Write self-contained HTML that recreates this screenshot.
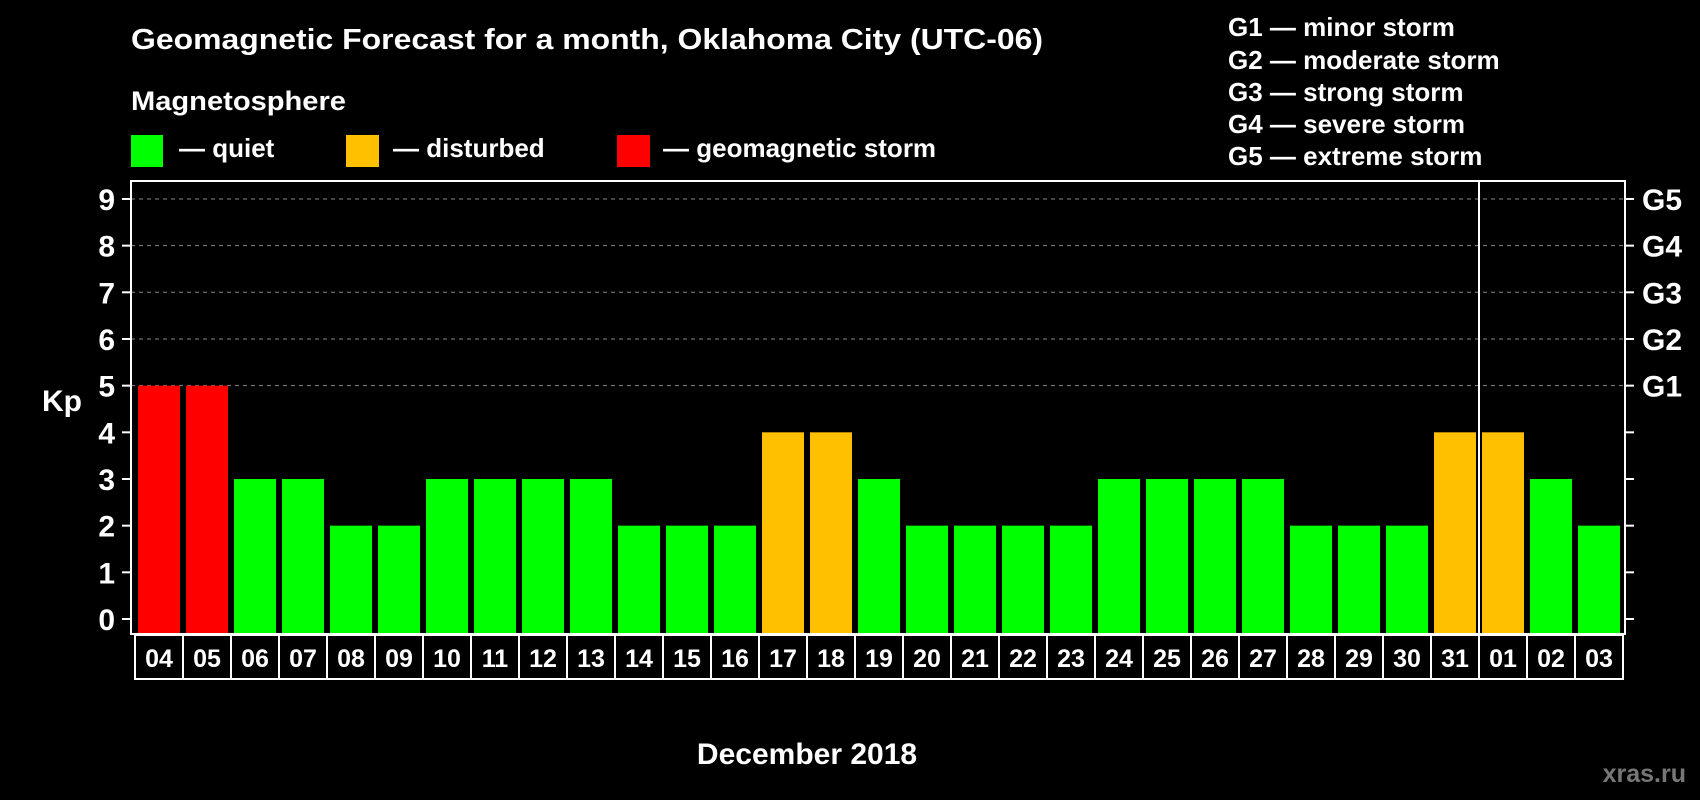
<!DOCTYPE html>
<html><head><meta charset="utf-8"><style>
html,body{margin:0;padding:0;background:#000;}
svg{display:block;font-family:"Liberation Sans",sans-serif;font-weight:bold;}
</style></head><body>
<svg id="chart" width="1700" height="800" viewBox="0 0 1700 800">
<rect width="1700" height="800" fill="#000"/>
<text x="131" y="49" fill="#fff" font-size="29" textLength="912" lengthAdjust="spacingAndGlyphs">Geomagnetic Forecast for a month, Oklahoma City (UTC-06)</text>
<text x="131" y="110" fill="#fff" font-size="27" textLength="215" lengthAdjust="spacingAndGlyphs">Magnetosphere</text>
<g><rect x="131" y="135" width="32" height="32" fill="#00ff00"/><text x="179" y="157" fill="#fff" font-size="26">— quiet</text></g>
<g><rect x="346" y="135" width="33" height="32" fill="#ffc000"/><text x="393" y="157" fill="#fff" font-size="26">— disturbed</text></g>
<g><rect x="617" y="135" width="33" height="32" fill="#ff0000"/><text x="663" y="157" fill="#fff" font-size="26">— geomagnetic storm</text></g>
<g fill="#fff" font-size="26">
<text x="1228" y="36">G1 — minor storm</text>
<text x="1228" y="69">G2 — moderate storm</text>
<text x="1228" y="101">G3 — strong storm</text>
<text x="1228" y="133">G4 — severe storm</text>
<text x="1228" y="165">G5 — extreme storm</text>
</g>
<g id="grid"></g>
<g id="bars"></g>
<rect x="131" y="181" width="1494" height="453" fill="none" stroke="#fff" stroke-width="2"/>
<line x1="1479" y1="181" x2="1479" y2="634" stroke="#fff" stroke-width="2"/>
<g id="axes"></g>
<text x="42" y="411" fill="#fff" font-size="30">Kp</text>
<text x="807" y="764" fill="#fff" font-size="30" text-anchor="middle">December 2018</text>
<text x="1686" y="782" fill="#777" font-size="25" text-anchor="end">xras.ru</text>
</svg>
<script>
const days = ["04","05","06","07","08","09","10","11","12","13","14","15","16","17","18","19","20","21","22","23","24","25","26","27","28","29","30","31","01","02","03"];
const kpValues = [5,5,3,3,2,2,3,3,3,3,2,2,2,4,4,3,2,2,2,2,3,3,3,3,2,2,2,4,4,3,2];
const yTicks = [0,1,2,3,4,5,6,7,8,9];
const gLabels = ["G1","G2","G3","G4","G5"];
const gLevels = [5,6,7,8,9];
const NS="http://www.w3.org/2000/svg";
function y(v){return 619-v*46.67;}
function x(i){return 138+i*48;}
function mk(t,a,p){const e=document.createElementNS(NS,t);for(const k in a)e.setAttribute(k,a[k]);p.appendChild(e);return e;}
const grid=document.getElementById('grid'),bars=document.getElementById('bars'),axes=document.getElementById('axes');
gLevels.forEach(v=>{const l=mk('line',{x1:131,x2:1625,y1:y(v),y2:y(v),stroke:'#888','stroke-dasharray':'4,4','stroke-width':1},grid);

});
kpValues.forEach((v,i)=>{const c=v>=5?'#ff0000':(v>=4?'#ffc000':'#00ff00');
const r=mk('rect',{x:x(i),y:y(v),width:42,height:634-y(v),fill:c},bars);


const b=mk('rect',{x:135+i*48,y:635,width:48,height:44,fill:'none',stroke:'#fff','stroke-width':2},axes);


const t=mk('text',{x:159+i*48,y:667,fill:'#fff','font-size':25,'text-anchor':'middle'},axes);t.textContent=days[i];

});
yTicks.forEach(v=>{mk('line',{x1:122,x2:131,y1:y(v),y2:y(v),stroke:'#fff','stroke-width':2},axes);
mk('line',{x1:1625,x2:1634,y1:y(v),y2:y(v),stroke:'#fff','stroke-width':2},axes);
const t=mk('text',{x:115,y:y(v)+11,fill:'#fff','font-size':30,'text-anchor':'end'},axes);t.textContent=v;

});
gLabels.forEach((g,i)=>{const t=mk('text',{x:1642,y:y(gLevels[i])+11,fill:'#fff','font-size':30},axes);t.textContent=g;

});
</script>
</body></html>
